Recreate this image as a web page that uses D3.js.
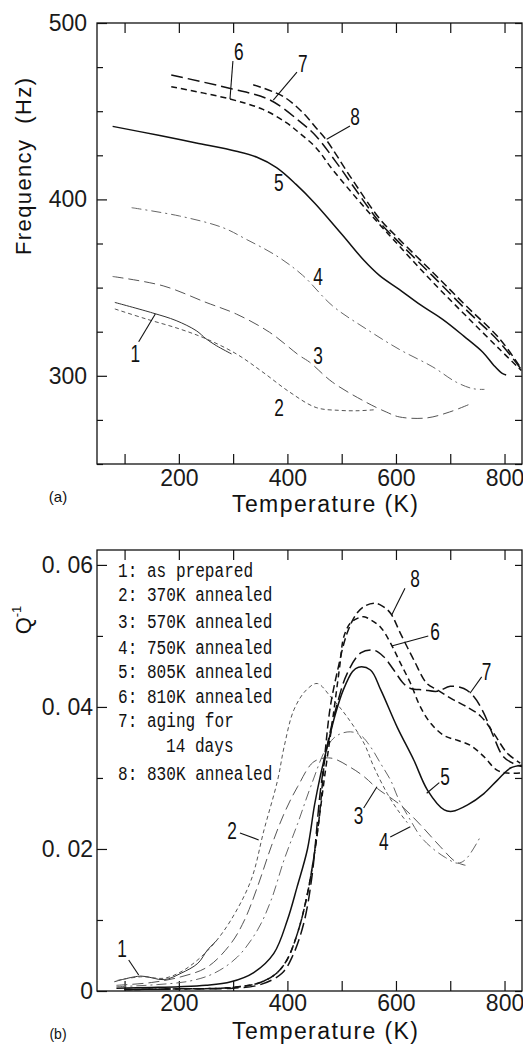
<!DOCTYPE html>
<html><head><meta charset="utf-8">
<script src="https://cdn.jsdelivr.net/npm/d3@7"></script>
<style>html,body{margin:0;padding:0;background:#fff;} svg{display:block;}</style>
</head><body><svg id="c" width="523" height="1044"></svg>
<script>
// ---------------- DATA ----------------
const tempTicks = [100,200,300,400,500,600,700,800];
const tempLabels = [200,400,600,800];
const freqTicks = [250,275,300,325,350,375,400,425,450,475,500];
const freqLabels = [300,400,500];
const qTicks = [0,0.01,0.02,0.03,0.04,0.05,0.06];
const qLabels = [0,0.02,0.04,0.06];
const legendLabels = ["1: as prepared","2: 370K annealed","3: 570K annealed","4: 750K annealed",
  "5: 805K annealed","6: 810K annealed","7: aging for","14 days","8: 830K annealed"];

// (a) resonance frequency (Hz) vs temperature (K)
const fT1 = [82,152,195,232,250,269,297];
const fHz1 = [341.6,335.6,331.3,325.6,321,317.1,312.4];
const fT2 = [82,140,201,250,306,355,404,453,496,530,563];
const fHz2 = [337.9,332.2,326.6,321,312.4,302,290.8,282,280.4,280.2,280.8];
const fT3 = [78,171,250,306,367,422,441,483,545,582,606,656,699,735];
const fHz3 = [356.3,351,341.6,335,324.7,311.5,307.7,296.4,285,279.5,276.7,276.1,279.5,283.8];
const fT4 = [113,201,281,324,380,428,483,545,606,668,711,742,763];
const fHz4 = [395.3,390.6,384,377.4,368,357,339.7,326.6,315,305,296.4,292.7,292.3];
const fT5 = [78,165,232,306,343,380,416,450,480,508,540,570,606,646,686,725,760,780,795,803];
const fHz5 = [441.4,436.2,432,427.3,424,418,408.5,398,387.5,377.4,365.8,356.8,349,340,332,322.5,313.4,306,301.5,300.5];
const fT6 = [186,293,355,398,422,453,483,545,606,668,729,791,831];
const fHz6 = [463.9,457,451,443.5,437.7,429.2,417,394.4,373.6,353,334,315,303];
const fT7 = [186,293,367,422,453,490,520,570,606,668,729,791,831];
const fHz7 = [470.5,463,456.5,444.4,435.8,421,408,387,375.5,356.5,337.5,319,303.5];
const fT8 = [337,392,429,453,471,520,570,606,668,729,791,831];
const fHz8 = [465,458.4,449,440.5,434,411,389,377.4,358.6,339.7,321,304];

// (b) internal friction Q^-1 vs temperature (K)
const qT1 = [81,130,173,204,235,253,271];
const qV1 = [0.0013,0.0021,0.0016,0.0025,0.0039,0.0058,0.0072];
const qT2 = [87,130,173,204,235,265,296,333,357,382,394,412,435,455,480,510,541,559,584,603,621];
const qV2 = [0.0015,0.002,0.0018,0.0027,0.0044,0.0067,0.010,0.0156,0.0227,0.0297,0.0344,0.0396,0.0424,0.0433,0.0414,0.0386,0.0349,0.0316,0.0278,0.0255,0.0237];
const qT3 = [85,150,204,253,296,321,345,370,394,419,449,480,516,541,566,608,645,682,710,728];
const qV3 = [0.0008,0.0012,0.002,0.0034,0.0067,0.010,0.0147,0.0203,0.025,0.0288,0.0323,0.0328,0.0315,0.0302,0.0285,0.0262,0.0234,0.0203,0.0182,0.0177];
const qT4 = [85,160,220,265,308,345,370,394,419,443,473,492,516,535,553,572,590,605,627,645,664,691,713,728,756];
const qV4 = [0.0006,0.0009,0.0014,0.0025,0.0048,0.0086,0.0128,0.0185,0.0236,0.0288,0.0344,0.036,0.0365,0.036,0.0344,0.032,0.0297,0.027,0.024,0.0218,0.0203,0.0188,0.018,0.0185,0.0218];
const qT5 = [85,150,200,250,296,338,375,400,418,437,450,461,474,488,503,520,531,553,572,602,633,658,689,704,732,762,787,811,832];
const qV5 = [0.0004,0.0005,0.0006,0.0008,0.0013,0.0026,0.0053,0.010,0.0147,0.0200,0.0262,0.0304,0.0346,0.0389,0.0424,0.045,0.0456,0.0452,0.0424,0.0372,0.0325,0.0283,0.0255,0.0253,0.0262,0.0278,0.0297,0.0314,0.0318];
const qT6 = [100,200,300,350,380,400,420,435,447,458,470,483,496,504,516,530,541,555,572,590,608,627,645,664,688,713,737,762,786,805,829];
const qV6 = [0.0002,0.0003,0.0005,0.0012,0.0025,0.0045,0.0085,0.013,0.018,0.024,0.031,0.038,0.0455,0.0499,0.0518,0.0525,0.0527,0.0522,0.0512,0.049,0.0462,0.0433,0.040,0.0377,0.036,0.0353,0.0346,0.033,0.0311,0.0307,0.0307];
const qT7 = [100,200,300,350,390,410,430,445,461,473,492,510,535,559,577,596,614,627,651,676,700,725,743,762,780,798,823,834];
const qV7 = [0.0002,0.0003,0.0004,0.0009,0.0025,0.0050,0.0095,0.016,0.0283,0.0344,0.0405,0.0447,0.0476,0.048,0.0471,0.0452,0.0433,0.0426,0.0424,0.0422,0.0429,0.0426,0.0415,0.0391,0.0358,0.033,0.0318,0.0316];
const qT8 = [100,200,300,350,380,400,420,435,447,458,470,479,492,510,528,545,562,575,590,608,633,657,676,706,731,756,780,805,829];
const qV8 = [0.0002,0.0003,0.0005,0.0012,0.0025,0.0045,0.0085,0.013,0.018,0.024,0.034,0.040,0.045,0.0504,0.0532,0.0543,0.0546,0.0542,0.0532,0.0504,0.0466,0.0433,0.0424,0.041,0.040,0.0387,0.0363,0.0335,0.0321];

// curve labels: [text, labelT, labelV, leaderT1, leaderV1, leaderT2, leaderV2]
const annoA = [
  ["6",310.5,484.1,299.6,478.5,294.2,456.9],
  ["7",428.2,477.2,417.6,472.2,374,456.3],
  ["8",524.5,446.9,515.3,441.6,472.4,434.1],
  ["5",384,409.9,null,null,null,null],
  ["4",456.3,356.6,null,null,null,null],
  ["3",456.3,311.8,null,null,null,null],
  ["2",384.5,282.3,null,null,null,null],
  ["1",119.7,312.8,126,319.3,156.6,335]
];
const annoB = [
  ["8",635,0.05813,616.6,0.05672,592.1,0.05296],
  ["6",671.9,0.0506,659.5,0.0500,592.1,0.04859],
  ["7",767.1,0.04497,757.9,0.04423,736.4,0.04193],
  ["5",690.3,0.03018,679.8,0.02934,656.6,0.02785],
  ["3",531.3,0.02479,540.5,0.02577,565,0.02877],
  ["4",577.4,0.02103,589.5,0.02169,626.4,0.02314],
  ["2",297.9,0.02268,312.6,0.02225,347.1,0.02127],
  ["1",95.2,0.00606,107.6,0.00437,126,0.00225]
];

// ---------------- STYLE ----------------
const dashes = [null,"4,3","11,5","10,4,2,4",null,"6,4","12,5","8,4"];
const colors = ["#333","#555","#555","#666","#111","#111","#111","#111"];
const widths = [1,1,1,1,1.5,1.5,1.5,1.5];
const FONT = "'Liberation Sans', Arial, sans-serif";

const svg = d3.select("#c");
const x = d3.scaleLinear().domain([49.2, 832.2]).range([97, 522]);
const yA = d3.scaleLinear().domain([250, 500]).range([464, 23]);
const yB = d3.scaleLinear().domain([0, 0.0621]).range([991, 550]);

const seriesA = [[fT1,fHz1],[fT2,fHz2],[fT3,fHz3],[fT4,fHz4],[fT5,fHz5],[fT6,fHz6],[fT7,fHz7],[fT8,fHz8]];
const seriesB = [[qT1,qV1],[qT2,qV2],[qT3,qV3],[qT4,qV4],[qT5,qV5],[qT6,qV6],[qT7,qV7],[qT8,qV8]];

function panel(id, y, yTicks, yLabels, yFmt, yPad, xPad, series, anno) {
  const g = svg.append("g");
  const [x0,x1] = x.range();
  const [yb,yt] = y.range();
  const isLab = d => yLabels.some(v => Math.abs(v-d) < 1e-9);
  const ax = [];
  ax.push(g.append("g").attr("transform",`translate(0,${yb})`)
    .call(d3.axisBottom(x).tickValues(tempTicks).tickSize(-10).tickSizeOuter(0).tickPadding(xPad)
      .tickFormat(d => tempLabels.includes(d) ? d : "")));
  ax.push(g.append("g").attr("transform",`translate(0,${yt})`)
    .call(d3.axisTop(x).tickValues(tempTicks).tickSize(-10).tickSizeOuter(0).tickFormat("")));
  ax.push(g.append("g").attr("transform",`translate(${x0},0)`)
    .call(d3.axisLeft(y).tickValues(yLabels).tickSize(-10).tickSizeOuter(0).tickPadding(yPad).tickFormat(yFmt)));
  ax.push(g.append("g").attr("transform",`translate(${x0},0)`)
    .call(d3.axisLeft(y).tickValues(yTicks.filter(d=>!isLab(d))).tickSize(-6).tickSizeOuter(0).tickFormat("")));
  ax.push(g.append("g").attr("transform",`translate(${x1},0)`)
    .call(d3.axisRight(y).tickValues(yTicks).tickSize(-7).tickSizeOuter(0).tickFormat("")));
  ax.forEach(a => {
    a.select(".domain").remove();
    a.selectAll(".tick line").attr("stroke","#111").attr("stroke-width",1.2);
    a.selectAll("text").attr("font-family",FONT).attr("font-size",23).attr("fill","#1a1a1a");
  });
  g.append("rect").attr("x",x0).attr("y",yt).attr("width",x1-x0).attr("height",yb-yt)
    .attr("fill","none").attr("stroke","#111").attr("stroke-width",1.3);

  g.append("clipPath").attr("id",id).append("rect")
    .attr("x",x0).attr("y",yt).attr("width",x1-x0).attr("height",yb-yt);
  const line = d3.line().x(d=>x(d[0])).y(d=>y(d[1])).curve(d3.curveCatmullRom.alpha(0.5));
  const cg = g.append("g").attr("clip-path",`url(#${id})`);
  series.forEach((s,i) => {
    const pts = s[0].map((t,k)=>[t,s[1][k]]);
    cg.append("path").attr("d",line(pts)).attr("fill","none")
      .attr("stroke",colors[i]).attr("stroke-width",widths[i])
      .attr("stroke-dasharray",dashes[i]);
  });
  anno.forEach(a => {
    if (a[3] !== null) {
      g.append("line").attr("x1",x(a[3])).attr("y1",y(a[4])).attr("x2",x(a[5])).attr("y2",y(a[6]))
        .attr("stroke","#111").attr("stroke-width",1.1);
    }
    g.append("text").attr("transform",`translate(${x(a[1])},${y(a[2])}) scale(0.72,1)`)
      .attr("text-anchor","middle").attr("dominant-baseline","central")
      .attr("font-family",FONT).attr("font-size",24).attr("fill","#111").text(a[0]);
  });
  return g;
}

panel("clipA", yA, freqTicks, freqLabels, d=>d, 10, 6, seriesA, annoA);
panel("clipB", yB, qTicks, qLabels, d => d===0 ? "0" : "0. 0"+Math.round(d*100), 4, 4, seriesB, annoB);

// axis titles
function title(txt, cx, base, len) {
  svg.append("text").attr("x",cx).attr("y",base).attr("text-anchor","middle")
    .attr("font-family",FONT).attr("font-size",23).attr("fill","#111")
    .attr("textLength",len).attr("lengthAdjust","spacing").text(txt);
}
title("Temperature (K)", 325, 512, 186);
title("Temperature (K)", 325, 1039, 186);

svg.append("text").attr("transform","translate(31,166.5) rotate(-90)").attr("text-anchor","middle")
  .attr("font-family",FONT).attr("font-size",22).attr("fill","#111")
  .attr("textLength",177).attr("lengthAdjust","spacing").text("Frequency\u00a0\u00a0(Hz)");

const qt = svg.append("text").attr("transform","translate(31,620) rotate(-90)").attr("text-anchor","middle")
  .attr("font-family",FONT).attr("font-size",22).attr("fill","#111");
qt.append("tspan").text("Q");
qt.append("tspan").attr("font-size",13).attr("dy",-10).text("-1");

svg.append("text").attr("x",58).attr("y",502).attr("text-anchor","middle")
  .attr("font-family",FONT).attr("font-size",15).attr("fill","#111").text("(a)");
svg.append("text").attr("x",58).attr("y",1039).attr("text-anchor","middle")
  .attr("font-family",FONT).attr("font-size",14).attr("fill","#111").text("(b)");

// legend
const legBase = [577,601,628,654,678,703,727,752,780];
const legX = [118,118,118,118,118,118,118,166,118];
legendLabels.forEach((s,i) => {
  svg.append("text").attr("x",legX[i]).attr("y",legBase[i])
    .attr("font-family","'Liberation Mono', 'DejaVu Sans Mono', monospace").attr("font-size",20)
    .attr("fill","#111").attr("textLength",s.length*9.65).attr("lengthAdjust","spacingAndGlyphs")
    .text(s);
});
</script></body></html>
